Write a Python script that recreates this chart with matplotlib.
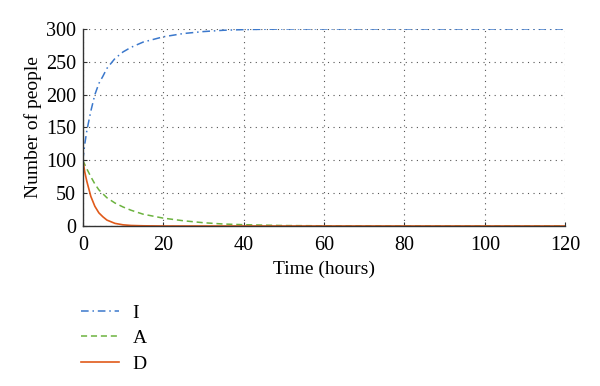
import matplotlib
matplotlib.use("Agg")
import matplotlib.pyplot as plt

t_I = [0, 0.5, 1, 2, 3, 4, 5, 6, 8, 10, 12, 15, 20, 25, 30, 35, 40, 50, 60, 80, 100, 120]
I = [100, 125, 145, 175, 200, 217, 228, 240, 255, 265, 272, 280, 288, 293, 296, 298, 299, 300, 300, 300, 300, 300]

t_A = [0, 1, 2, 3, 4, 6, 8, 10, 12, 15, 20, 25, 30, 35, 40, 50, 60, 80, 100, 120]
A = [100, 87, 75, 64, 55, 43, 35, 29, 24, 18, 12, 8, 5, 3, 2, 0.7, 0.3, 0, 0, 0]

t_D = [0, 0.5, 1, 2, 3, 4, 5, 6, 8, 10, 12, 15, 20, 30, 60, 120]
D = [100, 82, 68, 45, 30, 20, 14, 9, 4, 1.8, 0.8, 0.3, 0, 0, 0, 0]

x_ticks = [0, 20, 40, 60, 80, 100, 120]
y_ticks = [0, 50, 100, 150, 200, 250, 300]

plt.rcParams['font.family'] = ['Liberation Serif', 'DejaVu Serif']

fig = plt.figure(figsize=(6, 3.86), dpi=100)
ax = fig.add_axes([0.138, 0.4145, 0.804, 0.5105])

lI, = ax.plot(t_I, I, color='#3b78cc', linestyle=(0, (5, 2.5, 1, 2.5)), linewidth=1.1, label='I')
lA, = ax.plot(t_A, A, color='#6cb33f', linestyle=(0, (4, 2.5)), linewidth=1.1, label='A')
lD, = ax.plot(t_D, D, color='#e05a1a', linestyle='-', linewidth=1.2, label='D')

ax.set_xlim(0, 120)
ax.set_ylim(0, 300)
ax.set_xticks(x_ticks)
ax.set_yticks(y_ticks)
ax.grid(True, linestyle=(0, (1, 4)), color='#555555', linewidth=0.8)
ax.spines['top'].set_visible(False)
ax.spines['right'].set_visible(False)
for s in ['left', 'bottom']:
    ax.spines[s].set_color('#333333')
    ax.spines[s].set_linewidth(1.0)
ax.tick_params(direction='in', length=3, color='#333333', labelsize=14.5)
ax.tick_params(axis='x', pad=7)
ax.tick_params(axis='y', pad=5)
ax.set_xlabel('Time (hours)', fontsize=14, labelpad=4)
ax.set_ylabel('Number of people', fontsize=14, labelpad=3)

fig.legend(handles=[lI, lA, lD], loc='upper left', bbox_to_anchor=(0.122, 0.232),
           frameon=False, fontsize=14, handlelength=1.95, handletextpad=0.7,
           labelspacing=0.4, borderaxespad=0)

fig.savefig('out.png', dpi=100)
